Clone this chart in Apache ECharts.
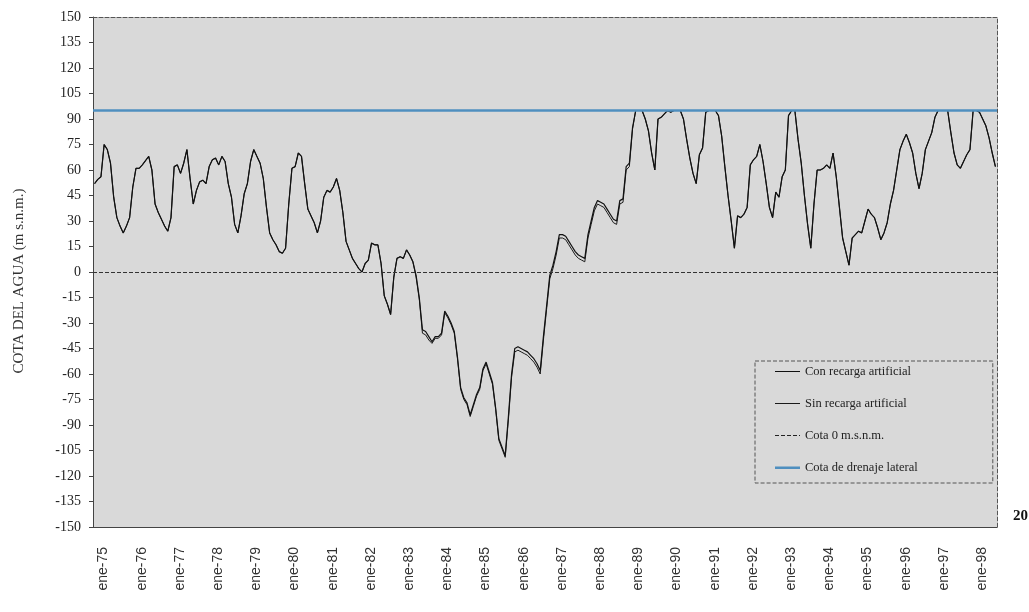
<!DOCTYPE html>
<html>
<head>
<meta charset="utf-8">
<script src="https://cdn.jsdelivr.net/npm/echarts@6/dist/echarts.min.js"></script>
<style>
  html, body { margin: 0; padding: 0; background: #ffffff; }
  #chart { width: 1029px; height: 612px; }
</style>
</head>
<body>
<div id="chart"></div>
<script>
// Monthly series, January 1975 to August 1998
const meses = ['ene', 'feb', 'mar', 'abr', 'may', 'jun', 'jul', 'ago', 'sep', 'oct', 'nov', 'dic'];
const primerAnio = 1975;
const numMeses = 284;
const categorias = [];
for (let i = 0; i < numMeses; i++) {
  const anio = primerAnio + Math.floor(i / 12);
  categorias.push(meses[i % 12] + '-' + String(anio % 100).padStart(2, '0'));
}

// Water level with artificial recharge (m s.n.m.)
const conRecarga = [
  52, 54.5, 56, 75, 72, 64, 44, 32, 27, 23, 27, 32,          // 1975
  50, 61, 61, 63, 65.5, 68, 60, 40, 35, 31, 27, 24,          // 1976
  32, 62, 63, 58, 64, 72, 55, 40, 48, 53, 54, 52,            // 1977
  62, 66, 67, 63, 68, 65, 52, 44, 28, 23, 33, 46,            // 1978
  52, 65, 72, 68, 64, 55, 38, 23, 19, 16, 12, 11,            // 1979
  14, 40, 61, 62, 70, 68, 52, 37, 33, 29, 23, 30,            // 1980
  44, 48, 47, 50, 55, 48, 35, 18, 13, 8, 5, 2,               // 1981
  0, 5, 7, 17, 16, 16, 5, -14, -19, -25, -3, 8,              // 1982
  9, 8, 13, 10, 6, -2, -15, -34, -35, -38, -41, -38,         // 1983
  -38, -36, -23, -26, -30, -35, -50, -68, -74, -77, -84, -78, // 1984
  -72, -68, -57, -53, -59, -65, -80, -98, -103, -108, -85, -60, // 1985
  -45, -44, -45, -46, -47, -49, -51, -54, -58, -38, -20, -2, // 1986
  4, 12, 22, 22, 21, 18, 15, 12, 10, 9, 8, 22,               // 1987
  30, 38, 42, 41, 40, 37, 34, 31, 30, 42, 43, 62,            // 1988
  64, 85, 95, 95, 95, 90, 83, 70, 60, 90, 91, 93,            // 1989
  95, 94, 95, 95, 95, 90, 78, 67, 58, 52, 69, 73,            // 1990
  94, 95, 95, 95, 92, 80, 62, 45, 30, 14, 33, 32,            // 1991
  34, 38, 63, 66, 68, 75, 65, 52, 38, 32, 47, 44,            // 1992
  56, 60, 92, 95, 95, 78, 64, 45, 28, 14, 40, 60,            // 1993
  60, 61, 63, 61, 70, 56, 38, 20, 12, 4, 20, 22,             // 1994
  24, 23, 30, 37, 34, 32, 26, 19, 23, 29, 40, 48,            // 1995
  60, 72, 77, 81, 76, 70, 58, 49, 58, 72, 77, 82,            // 1996
  91, 95, 95, 95, 95, 82, 70, 63, 61, 65, 69, 72,            // 1997
  95, 95, 94, 90, 86, 79, 70, 62                             // 1998
];

// Water level without artificial recharge (m s.n.m.)
const sinRecarga = [
  52, 54.5, 56, 75, 72, 64, 44, 32, 27, 23, 27, 32,          // 1975
  50, 61, 61, 63, 65.5, 68, 60, 40, 35, 31, 27, 24,          // 1976
  32, 62, 63, 58, 64, 72, 55, 40, 48, 53, 54, 52,            // 1977
  62, 66, 67, 63, 68, 65, 52, 44, 28, 23, 33, 46,            // 1978
  52, 65, 72, 68, 64, 55, 38, 23, 19, 16, 12, 11,            // 1979
  14, 40, 61, 62, 70, 68, 52, 37, 33, 29, 23, 30,            // 1980
  44, 48, 47, 50, 55, 48, 35, 18, 13, 8, 5, 2,               // 1981
  0, 5, 7, 17, 16, 16, 5, -14, -19, -25, -3, 8,              // 1982
  9, 8, 13, 10, 6, -3, -16, -36, -37, -40, -42, -39,         // 1983
  -39, -37, -24, -27, -31, -36, -51, -69, -75, -78, -85, -79, // 1984
  -73, -69, -58, -54, -60, -66, -81, -99, -104, -109, -87, -62, // 1985
  -47, -46, -47, -48, -49, -51, -53, -56, -60, -40, -22, -4, // 1986
  2, 10, 20, 20, 19, 16, 13, 10, 8, 7, 6, 20,                // 1987
  28, 36, 40, 39, 38, 35, 32, 29, 28, 40, 41, 60,            // 1988
  62, 84, 95, 95, 95, 90, 83, 70, 60, 90, 91, 93,            // 1989
  95, 94, 95, 95, 95, 90, 78, 67, 58, 52, 69, 73,            // 1990
  94, 95, 95, 95, 92, 80, 62, 45, 30, 14, 33, 32,            // 1991
  34, 38, 63, 66, 68, 75, 65, 52, 38, 32, 47, 44,            // 1992
  56, 60, 92, 95, 95, 78, 64, 45, 28, 14, 40, 60,            // 1993
  60, 61, 63, 61, 70, 56, 38, 20, 12, 4, 20, 22,             // 1994
  24, 23, 30, 37, 34, 32, 26, 19, 23, 29, 40, 48,            // 1995
  60, 72, 77, 81, 76, 70, 58, 49, 58, 72, 77, 82,            // 1996
  91, 95, 95, 95, 95, 82, 70, 63, 61, 65, 69, 72,            // 1997
  95, 95, 94, 90, 86, 79, 70, 62                             // 1998
];

// Reference levels (m s.n.m.)
const cotaCero = 0;
const cotaDrenaje = 95;

// Vertical scale
const yMin = -150;
const yMax = 150;
const yPaso = 15;

const fondoGrafico = '#d9d9d9';
const colorDrenaje = '#4f8fbf';
const serif = '"Liberation Serif", "Times New Roman", serif';
const sans = '"Liberation Sans", Arial, sans-serif';

// Legend keys: plain line samples (tiny corner dots fix the 25x12 box)
const caja = 'M0,0h0.05v0.05h-0.05z M24.95,11.95h0.05v0.05h-0.05z ';
const iconoLinea = 'path://' + caja + 'M0,5.6h25v1h-25z';
const iconoDiscontinuo = 'path://' + caja + 'M0,5.6h4v1h-4z M6,5.6h4v1h-4z M12,5.6h4v1h-4z M18,5.6h4v1h-4z M24,5.6h1v1h-1z';
const iconoDrenaje = 'path://' + caja + 'M0,5h25v2.4h-25z';

const chart = echarts.init(document.getElementById('chart'), null, { renderer: 'canvas' });

chart.setOption({
  animation: false,
  backgroundColor: '#ffffff',
  grid: {
    left: 93, right: 32, top: 17, bottom: 85,
    show: true, backgroundColor: fondoGrafico, borderWidth: 0
  },
  legend: {
    left: 755, top: 361,
    orient: 'vertical',
    itemWidth: 25, itemHeight: 12, itemGap: 19,
    padding: [4, 75, 9, 20],
    backgroundColor: fondoGrafico,
    borderColor: '#555', borderWidth: 1, borderType: 'dashed',
    textStyle: { fontFamily: serif, fontSize: 12.5, color: '#222' },
    data: [
      { name: 'Con recarga artificial', icon: iconoLinea },
      { name: 'Sin recarga artificial', icon: iconoLinea },
      { name: 'Cota 0 m.s.n.m.', icon: iconoDiscontinuo },
      { name: 'Cota de drenaje lateral', icon: iconoDrenaje }
    ]
  },
  xAxis: [
    {
      type: 'category',
      data: categorias,
      boundaryGap: true,
      axisLine: { onZero: false, lineStyle: { color: '#444', width: 1 } },
      axisTick: { interval: 11, length: 5, lineStyle: { color: '#444' } },
      axisLabel: {
        interval: 11, rotate: 90, margin: 20,
        verticalAlign: 'top', padding: [2, 0, 0, 0],
        fontFamily: sans, fontSize: 14, color: '#333'
      },
      splitLine: { show: false }
    },
    {
      type: 'category',
      position: 'top',
      data: categorias,
      axisLine: { onZero: false, lineStyle: { color: '#555', type: 'dashed' } },
      axisTick: { show: false },
      axisLabel: { show: false },
      splitLine: { show: false }
    }
  ],
  yAxis: [
    {
      type: 'value',
      min: yMin, max: yMax, interval: yPaso,
      axisLine: { show: true, onZero: false, lineStyle: { color: '#444' } },
      axisTick: { show: true, length: 4, lineStyle: { color: '#444' } },
      axisLabel: { fontFamily: serif, fontSize: 14, color: '#222', margin: 12 },
      splitLine: { show: false },
      name: 'COTA DEL AGUA (m s.n.m.)',
      nameLocation: 'middle',
      nameGap: 66,
      nameTextStyle: { fontFamily: serif, fontSize: 15, color: '#333', padding: [0, 18, 0, 0] }
    },
    {
      type: 'value',
      position: 'right',
      min: yMin, max: yMax, interval: yPaso,
      axisLine: { show: true, onZero: false, lineStyle: { color: '#555', type: 'dashed' } },
      axisTick: { show: false },
      axisLabel: { show: false },
      splitLine: { show: false }
    }
  ],
  series: [
    {
      name: 'Sin recarga artificial',
      type: 'line',
      data: sinRecarga,
      symbol: 'none',
      lineStyle: { color: '#1a1a1a', width: 1 },
      itemStyle: { color: '#1a1a1a' },
      z: 3
    },
    {
      name: 'Con recarga artificial',
      type: 'line',
      data: conRecarga,
      symbol: 'none',
      lineStyle: { color: '#111', width: 1.2 },
      itemStyle: { color: '#111' },
      z: 4
    },
    {
      name: 'Cota 0 m.s.n.m.',
      type: 'line',
      data: [],
      symbol: 'none',
      lineStyle: { color: '#222', width: 1, type: [4, 2] },
      itemStyle: { color: '#222' },
      markLine: {
        silent: true, symbol: 'none', label: { show: false },
        lineStyle: { color: '#333', width: 1, type: [4, 2] },
        data: [{ yAxis: cotaCero }]
      },
      z: 2
    },
    {
      name: 'Cota de drenaje lateral',
      type: 'line',
      data: [],
      symbol: 'none',
      lineStyle: { color: colorDrenaje, width: 2.5 },
      itemStyle: { color: colorDrenaje },
      markLine: {
        silent: true, symbol: 'none', label: { show: false },
        lineStyle: { color: colorDrenaje, width: 2.5, type: 'solid' },
        data: [{ yAxis: cotaDrenaje }]
      },
      z: 2
    }
  ],
  graphic: [
    {
      type: 'text',
      left: 1013, top: 509,
      style: { text: '20', font: 'bold 15px "Liberation Serif", serif', fill: '#111' }
    }
  ]
});
</script>
</body>
</html>
